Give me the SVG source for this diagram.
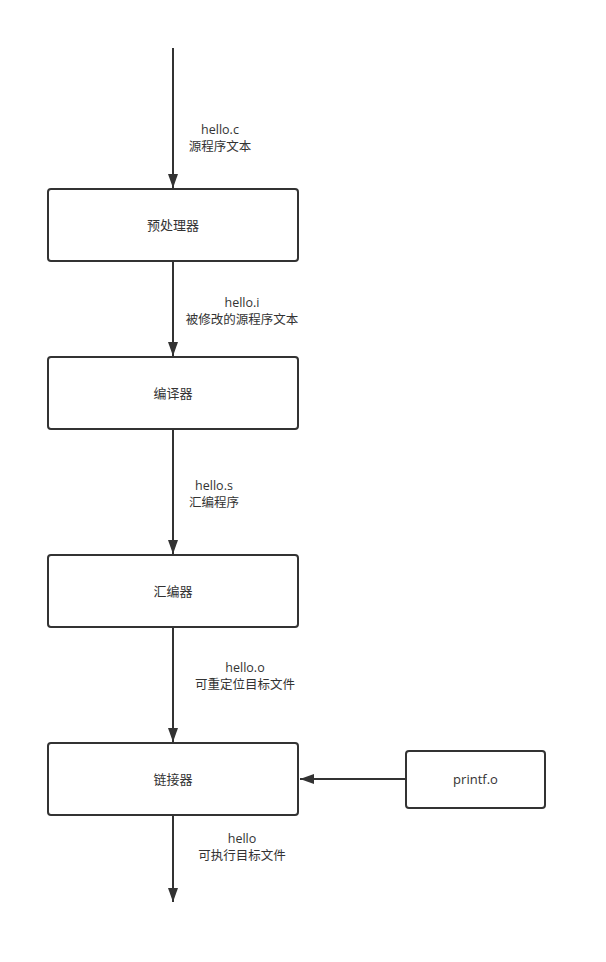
<svg xmlns="http://www.w3.org/2000/svg" width="606" height="962" viewBox="0 0 606 962">
<style>
.box{fill:#fff;stroke:#333;stroke-width:2}
.ln{stroke:#333;stroke-width:2;fill:none}
text{font-family:"Open Sans","Noto Sans CJK SC",sans-serif;font-size:13px;fill:#333;text-anchor:middle}
text.lb{font-size:12.5px}
</style>
<defs>
<marker id="ahv" viewBox="0 0 14 10" refX="14" refY="5" markerWidth="14" markerHeight="10" markerUnits="userSpaceOnUse" orient="auto">
<path d="M0,0 L14,5 L0,10 Z" fill="#333"/>
</marker>
</defs>
<rect width="606" height="962" fill="#fff"/>
<g id="connectors">
<line class="ln" x1="173" y1="48" x2="173" y2="188" marker-end="url(#ahv)"/>
<line class="ln" x1="173" y1="261" x2="173" y2="356" marker-end="url(#ahv)"/>
<line class="ln" x1="173" y1="429" x2="173" y2="554" marker-end="url(#ahv)"/>
<line class="ln" x1="173" y1="627" x2="173" y2="742" marker-end="url(#ahv)"/>
<line class="ln" x1="173" y1="815" x2="173" y2="902" marker-end="url(#ahv)"/>
<line class="ln" x1="406" y1="779" x2="300" y2="779" marker-end="url(#ahv)"/>
<text class="lb" x="220" y="134">hello.c</text>
<text class="lb" x="220" y="151">源程序文本</text>
<text class="lb" x="242" y="307">hello.i</text>
<text class="lb" x="242" y="324">被修改的源程序文本</text>
<text class="lb" x="214" y="490">hello.s</text>
<text class="lb" x="214" y="507">汇编程序</text>
<text class="lb" x="245" y="672">hello.o</text>
<text class="lb" x="245" y="689">可重定位目标文件</text>
<text class="lb" x="242" y="843">hello</text>
<text class="lb" x="242" y="860">可执行目标文件</text>
</g>
<g id="preprocessor"><rect class="box" x="48" y="189" width="250" height="72" rx="3"/><text x="173" y="230">预处理器</text></g>
<g id="compiler"><rect class="box" x="48" y="357" width="250" height="72" rx="3"/><text x="173" y="398">编译器</text></g>
<g id="assembler"><rect class="box" x="48" y="555" width="250" height="72" rx="3"/><text x="173" y="596">汇编器</text></g>
<g id="linker"><rect class="box" x="48" y="743" width="250" height="72" rx="3"/><text x="173" y="784">链接器</text></g>
<g id="printf"><rect class="box" x="406" y="751" width="139" height="57" rx="3"/><text x="475.5" y="784">printf.o</text></g>
</svg>
